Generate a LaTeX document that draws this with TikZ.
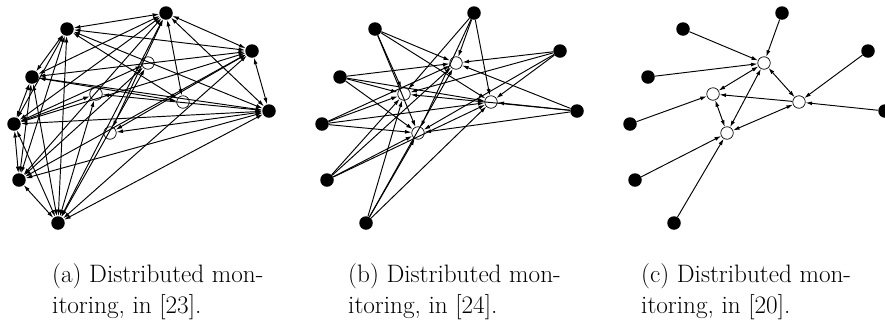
\documentclass[tikz,border=0pt]{standalone}
\usetikzlibrary{arrows.meta}
\tikzset{
  blk/.style={circle,fill=black,inner sep=0pt,minimum size=13.5pt},
  wht/.style={circle,draw=black,fill=white,line width=0.7pt,inner sep=0pt,minimum size=12.5pt},
  lnk/.style={line width=0.95pt,-{Latex[length=6.5pt,width=4pt]}},
  blnk/.style={line width=0.95pt,{Latex[length=6.5pt,width=4pt]}-{Latex[length=6.5pt,width=4pt]}},
  captext/.style={anchor=north west,align=left,inner sep=0pt,font=\fontsize{25.2}{31.5}\selectfont}
}
\begin{document}
\begin{tikzpicture}[x=1pt,y=-1pt]
\useasboundingbox (0,0) rectangle (885,325);
% ---------- panel (a) ----------
\foreach \n/\x/\y in {1/148/63,2/96/94,3/183/102,4/110/133}
  \node[wht] (aw\n) at (\x,\y) {};
\foreach \n/\x/\y in {1/166/13,2/67/29,3/252/51,4/32/77,5/269/111,6/14/124,7/19/180,8/58/223}
  \node[blk] (a\n) at (\x,\y) {};
\foreach \i in {1,...,7}{
  \pgfmathtruncatemacro\s{\i+1}
  \foreach \j in {\s,...,8} \draw[blnk] (a\i) -- (a\j);
}
\foreach \b/\w in {1/3,2/3,4/3,8/1,7/1,6/1,8/2,6/2,3/4,5/4,5/2,1/4}
  \draw[blnk] (a\b) -- (aw\w);
% ---------- panel (b) ----------
\begin{scope}[xshift=308pt]
\foreach \n/\x/\y in {1/148/63,2/96/94,3/183/102,4/110/133}
  \node[wht] (bw\n) at (\x,\y) {};
\foreach \n/\x/\y in {1/166/13,2/67/29,3/252/51,4/32/77,5/269/111,6/14/124,7/19/180,8/58/223}
  \node[blk] (b\n) at (\x,\y) {};
\end{scope}
\foreach \i in {1,...,8}
  \foreach \w in {1,...,4} \draw[lnk] (b\i) -- (bw\w);
% ---------- panel (c) ----------
\begin{scope}[xshift=616pt]
\foreach \n/\x/\y in {1/148/63,2/97/94,3/183/102,4/111/133}
  \node[wht] (cw\n) at (\x,\y) {};
\foreach \n/\x/\y in {1/166/13,2/67/29,3/252/51,4/32/77,5/269/111,6/14/124,7/19/180,8/58/223}
  \node[blk] (c\n) at (\x,\y) {};
\end{scope}
\foreach \b/\w in {1/1,2/1,4/1,6/2,3/3,5/3,7/4,8/4}
  \draw[lnk] (c\b) -- (cw\w);
\foreach \u/\v in {1/2,1/3,1/4,2/4,3/4}
  \draw[blnk] (cw\u) -- (cw\v);
\draw[lnk] (cw3) -- (cw2);
% ---------- captions ----------
\node[captext] (capa) at (52,263) {(a) Distributed mon-\\itoring, in [23].};
\node[captext] (capb) at (348,263) {(b) Distributed mon-\\itoring, in [24].};
\node[captext] (capc) at (641,263) {(c) Distributed mon-\\itoring, in [20].};
\end{tikzpicture}
\end{document}
